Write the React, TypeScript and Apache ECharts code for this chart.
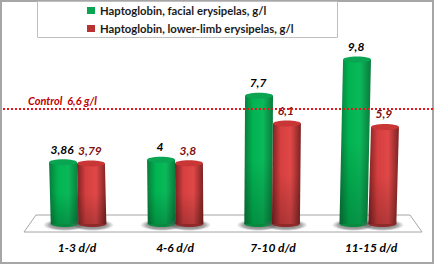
import React, { useEffect, useRef } from "react";
import * as echarts from "echarts";

const categories = ["1-3 d/d", "4-6 d/d", "7-10 d/d", "11-15 d/d"];
const facialValues = [3.86, 4, 7.7, 9.8];
const lowerLimbValues = [3.79, 3.8, 6.1, 5.9];
const facialName = "Haptoglobin, facial erysipelas, g/l";
const lowerLimbName = "Haptoglobin, lower-limb erysipelas, g/l";
const controlLabel = "Control  6,6 g/l";
// the dotted line sits slightly above 6.6 on the picture's bar scale
const controlLineLevel = [6.76, 6.76];
const controlLineX = [0, 1];

const GREEN = { edge: "#0a7a3c", mid: "#00b451", bright: "#0bb85a", top: "#0aa552", low: "#078a40", text: "#000000" };
const RED = { edge: "#7c2222", mid: "#d63f3f", bright: "#e04848", top: "#c93636", low: "#8e2a2a", text: "#7f0f0f" };

function cylinder(pal: typeof GREEN, side: number) {
  return (params: any, api: any) => {
    const idx = api.value(0);
    const val = api.value(1);
    const band = api.size([1, 0])[0];
    const w = band * 0.285;
    const [cx, cy] = api.coord([idx, val]);
    const [, baseY] = api.coord([idx, 0]);
    const x0 = cx + side * w * 0.5;
    const h = baseY - cy;
    const dx = (225 - x0) * h * 1.6e-4;
    const ry = 3;
    const body = {
      type: "linear", x: 0, y: 0, x2: 1, y2: 0,
      colorStops: [
        { offset: 0, color: pal.edge },
        { offset: 0.3, color: pal.mid },
        { offset: 0.65, color: pal.bright },
        { offset: 1, color: pal.edge },
      ],
    };
    const txt = String(api.value(1)).replace(".", ",");
    return {
      type: "group",
      children: [
        {
          type: "ellipse",
          shape: { cx: x0 + dx, cy: baseY - 1, rx: w * 0.78, ry: 6 },
          style: {
            fill: {
              type: "radial", x: 0.5, y: 0.5, r: 0.5,
              colorStops: [
                { offset: 0, color: "rgba(60,60,60,0.75)" },
                { offset: 0.7, color: "rgba(90,90,90,0.55)" },
                { offset: 1, color: "rgba(120,120,120,0)" },
              ],
            },
          },
        },
        {
          type: "ellipse",
          shape: { cx: x0 + dx, cy: baseY - ry + 1, rx: w / 2, ry },
          style: { fill: pal.low },
        },
        {
          type: "polygon",
          shape: {
            points: [
              [x0 - w / 2, cy + ry],
              [x0 + w / 2, cy + ry],
              [x0 + w / 2 + dx, baseY - ry + 1],
              [x0 - w / 2 + dx, baseY - ry + 1],
            ],
          },
          style: { fill: body },
        },
        {
          type: "polygon",
          shape: {
            points: [
              [x0 - w / 2 + dx * 0.5, cy + h * 0.5],
              [x0 + w / 2 + dx * 0.5, cy + h * 0.5],
              [x0 + w / 2 + dx, baseY - ry + 1],
              [x0 - w / 2 + dx, baseY - ry + 1],
            ],
          },
          style: {
            fill: {
              type: "linear", x: 0, y: 0, x2: 0, y2: 1,
              colorStops: [
                { offset: 0, color: "rgba(0,0,0,0)" },
                { offset: 1, color: "rgba(0,0,0,0.2)" },
              ],
            },
          },
        },
        {
          type: "ellipse",
          shape: { cx: x0, cy: cy + ry, rx: w / 2, ry },
          style: { fill: pal.top },
        },
        {
          type: "text",
          style: {
            text: txt,
            x: x0 - 1,
            y: cy - 4,
            align: "center",
            verticalAlign: "bottom",
            fill: pal.text,
            font: "italic bold 12px Lato",
          },
        },
      ],
    };
  };
}

export default function App() {
  const ref = useRef<HTMLDivElement>(null);
  useEffect(() => {
    document.body.style.margin = "0";
    const chart = echarts.init(ref.current!, undefined, { renderer: "svg" });
    chart.setOption({
      animation: false,
      backgroundColor: "#ffffff",
      grid: [
        { left: 28, right: 14, top: 18.4, bottom: 38 },
        { left: 3, right: 1, top: 18.4, bottom: 38 },
      ],
      xAxis: [
        {
          type: "category",
          gridIndex: 0,
          data: categories,
          axisLine: { show: false },
          axisTick: { show: false },
          splitLine: { show: false },
          axisLabel: { margin: 15, color: "#000", fontFamily: "Lato", fontStyle: "italic", fontWeight: "bold", fontSize: 12 },
        },
        { type: "value", gridIndex: 1, min: 0, max: 1, show: false },
      ],
      yAxis: [
        { type: "value", gridIndex: 0, min: 0, max: 12, show: false },
        { type: "value", gridIndex: 1, min: 0, max: 12, show: false },
      ],
      legend: {
        orient: "vertical",
        left: 87,
        top: 4,
        padding: 0,
        itemWidth: 8,
        itemHeight: 7,
        itemGap: 5,
        selectedMode: false,
        textStyle: { fontFamily: "Lato", fontWeight: "bold", fontSize: 11.3, lineHeight: 13, color: "#1a1a1a" },
        data: [
          { name: facialName, icon: "rect", itemStyle: { color: "#0aa552" } },
          { name: lowerLimbName, icon: "rect", itemStyle: { color: "#b83232" } },
        ],
      },
      graphic: [
        { type: "rect", z: -1, shape: { x: 1, y: 1, width: 432, height: 262 }, style: { fill: "none", stroke: "#a6a6a6", lineWidth: 2 } },
        { type: "rect", z: -1, shape: { x: 37.5, y: 1.5, width: 300, height: 36 }, style: { fill: "#fff", stroke: "#bfbfbf", lineWidth: 1 } },
        { type: "polygon", z: -1, shape: { points: [[24, 232], [36, 215], [410, 215], [422, 232]] }, style: { fill: "#fff", stroke: "#a6a6a6", lineWidth: 1 } },
        { type: "text", z: 10, style: { text: controlLabel, x: 28, y: 100.5, verticalAlign: "middle", fill: "#c00000", font: "italic bold 11px Lato" } },
      ],
      series: [
        {
          type: "custom",
          name: facialName,
          xAxisIndex: 0,
          yAxisIndex: 0,
          itemStyle: { color: "#0aa552" },
          renderItem: cylinder(GREEN, -1),
          encode: { x: 0, y: 1 },
          data: facialValues.map((v, i) => [i, v]),
        },
        {
          type: "custom",
          name: lowerLimbName,
          xAxisIndex: 0,
          yAxisIndex: 0,
          itemStyle: { color: "#b83232" },
          renderItem: cylinder(RED, 1),
          encode: { x: 0, y: 1 },
          data: lowerLimbValues.map((v, i) => [i, v]),
        },
        {
          type: "line",
          name: "Control",
          xAxisIndex: 1,
          yAxisIndex: 1,
          z: 5,
          symbol: "none",
          lineStyle: { color: "#e8141c", width: 2, type: [2, 2] },
          data: controlLineX.map((x, i) => [x, controlLineLevel[i]]),
        },
      ],
    });
    return () => chart.dispose();
  }, []);
  return <div ref={ref} style={{ width: 434, height: 264 }} />;
}
